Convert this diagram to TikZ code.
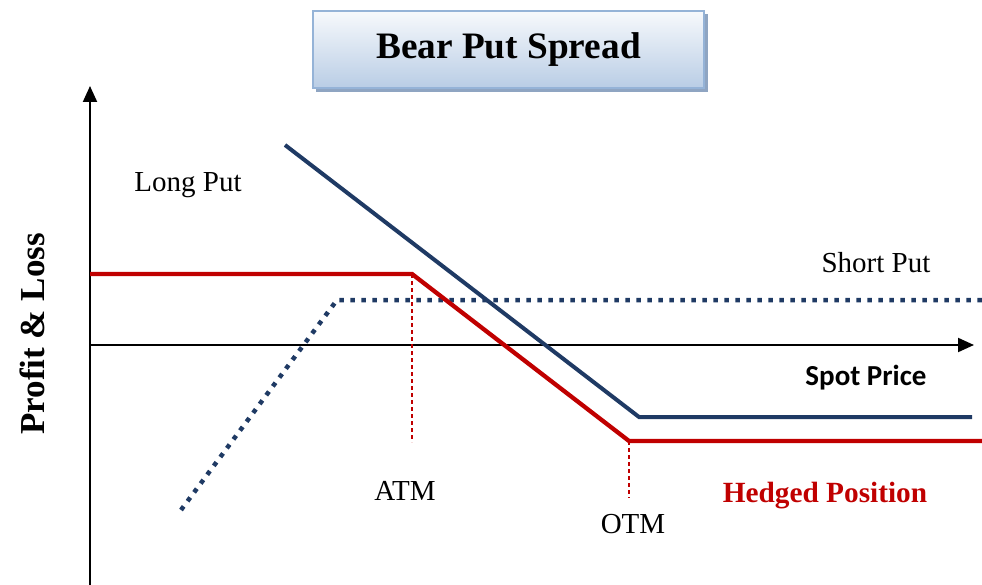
\documentclass[tikz,border=0pt]{standalone}
\usepackage{fontspec}
\setmainfont{Liberation Serif}
\newfontfamily\calibrif{Carlito}
\usetikzlibrary{arrows.meta,shadows}
\definecolor{navy}{HTML}{1F3A64}
\definecolor{hred}{HTML}{C00000}
\definecolor{boxtop}{HTML}{F7F9FC}
\definecolor{boxbot}{HTML}{B9CDE5}
\definecolor{boxline}{HTML}{95B3D7}
\definecolor{boxshadow}{HTML}{8FA5C2}
\tikzset{
  axisline/.style={line width=2pt,-{Triangle[length=16pt,width=14pt]}},
  navyline/.style={navy,line width=4pt,line join=miter},
  redline/.style={hred,line width=4.3pt,line join=miter},
  navydot/.style={navy,line width=4.5pt,dash pattern=on 4.5pt off 6.5pt},
  reddot/.style={hred,line width=2.5pt,dash pattern=on 4pt off 3pt},
  lbl/.style={font=\fontsize{29}{34}\selectfont,inner sep=0pt},
}
\begin{document}
\begin{tikzpicture}[x=1pt,y=-1pt]
\useasboundingbox (0,0) rectangle (982,585);
% title box
\fill[boxshadow] (316,14) rectangle (708,92);
\node[draw=boxline,line width=2pt,top color=boxtop,bottom color=boxbot,
  minimum width=391pt,minimum height=77pt,anchor=north west,inner sep=0pt,
  font=\fontsize{37.3}{42}\selectfont\bfseries] (title) at (312,10) {Bear Put Spread};
% axes
\coordinate (yb) at (90,585);
\coordinate (yt) at (90,86);
\coordinate (xl) at (90,345);
\coordinate (xr) at (974,345);
\draw[axisline] (yb) -- (yt);
\draw[axisline] (xl) -- (xr);
% short put (dotted)
\coordinate (s1) at (181,510);
\coordinate (s2) at (337,300);
\coordinate (s3) at (982,300);
\draw[navydot] (s1) -- (s2) -- (s3);
% long put
\coordinate (l1) at (285,145);
\coordinate (l2) at (639,417);
\coordinate (l3) at (972,417);
\draw[navyline] (l1) -- (l2) -- (l3);
% hedged
\coordinate (h1) at (90,274);
\coordinate (h2) at (412,274);
\coordinate (h3) at (629,441);
\coordinate (h4) at (982,441);
\draw[redline] (h1) -- (h2) -- (h3) -- (h4);
% strike markers
\coordinate (atmb) at (412,442);
\coordinate (otmb) at (629,498);
\draw[reddot] (h2) -- (atmb);
\draw[reddot] (h3) -- (otmb);
% labels
\node[lbl] (longput) at (188,185) {Long Put};
\node[lbl] (shortput) at (876,263) {Short Put};
\node[lbl,font=\calibrif\fontsize{29}{34}\selectfont\bfseries] (spot) at (866,378) {Spot Price};
\node[lbl] (atm) at (405,491) {ATM};
\node[lbl] (otm) at (633,524) {OTM};
\node[lbl,text=hred,font=\fontsize{29.3}{34}\selectfont\bfseries] (hedged) at (825,496) {Hedged Position};
\node[lbl,rotate=90,font=\fontsize{35}{40}\selectfont\bfseries] (pl) at (32,334) {Profit \& Loss};
\end{tikzpicture}
\end{document}
